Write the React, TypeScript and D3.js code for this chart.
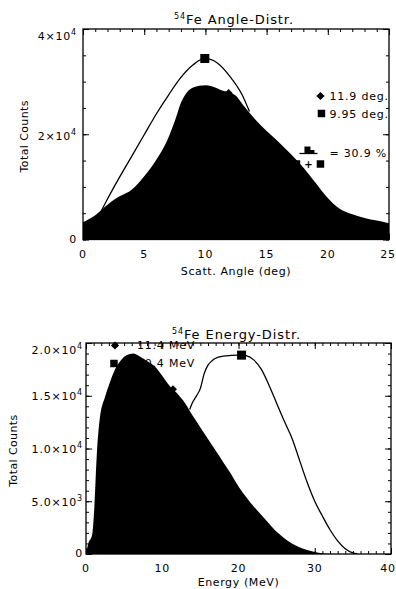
import { useEffect, useRef } from "react";
import * as d3 from "d3";

const width = 396;
const height = 589;

// top panel: 54Fe scattering angle distribution (deg -> counts)
const angleBins = [0, 0.5, 1, 1.5, 2, 2.5, 3, 4, 5, 6, 7, 7.5, 8, 8.5, 9, 10, 10.5, 11, 11.5, 12, 12.5, 13, 14, 15, 16, 17, 18, 19, 20, 21, 22, 23, 24, 25];
const angleCounts = [3300, 3900, 4600, 5600, 6600, 7500, 8200, 9500, 12000, 15200, 19500, 22500, 26000, 28000, 28900, 29300, 29100, 28700, 28200, 28000, 27300, 25800, 23000, 20600, 18500, 16200, 13700, 10800, 7900, 5800, 4800, 4100, 3600, 3100];
const angleFitBins = [1.4, 2, 3, 4, 5, 6, 7, 8, 9, 9.95, 11, 12, 13, 13.6];
const angleFitCounts = [5000, 7700, 11900, 15900, 19900, 23900, 27500, 30800, 33200, 34400, 33500, 31000, 27500, 24300];
const angleTicks = [0, 5, 10, 15, 20, 25];
const angleCountTicks = [0, 20000, 40000];
const angleCountLabels = [["0", ""], ["2×10", "4"], ["4×10", "4"]];
const angleMean = 11.9;
const anglePeak = 9.95;
const angleLegend = ["11.9 deg.", "9.95 deg."];
const angleRatio = "= 30.9 %";

// bottom panel: 54Fe energy distribution (MeV -> counts)
const energyBins = [0, 0.3, 0.8, 1.1, 1.4, 1.8, 2.5, 3, 3.8, 4.5, 5.3, 6.2, 7, 8, 9, 10, 11, 12, 13, 14, 15, 16, 17, 18, 19, 20, 21, 22, 23, 24, 25, 26, 27, 28, 29, 30, 31, 32, 33, 40];
const energyCounts = [0, 1000, 1800, 4500, 9200, 12800, 14900, 16000, 17500, 18300, 18850, 19000, 18750, 18300, 17800, 16900, 15900, 15200, 14300, 13100, 12000, 10900, 9800, 8700, 7600, 6400, 5400, 4500, 3700, 2900, 2100, 1500, 1000, 650, 380, 200, 80, 20, 0, 0];
const energyCalcBins = [13.6, 14, 14.5, 15, 15.5, 16, 16.5, 17, 18, 19, 20, 20.4, 21, 22, 23, 24, 25, 26, 27, 28, 29, 30, 31, 32, 33, 34, 35, 35.6];
const energyCalcCounts = [13700, 14400, 15000, 15700, 17100, 17900, 18300, 18550, 18750, 18820, 18850, 18850, 18800, 18400, 17500, 16000, 14300, 12600, 11000, 8900, 6800, 5000, 3600, 2300, 1250, 500, 100, 0];
const energyTicks = [0, 10, 20, 30, 40];
const energyCountTicks = [0, 5000, 10000, 15000, 20000];
const energyCountLabels = [["0", ""], ["5.0×10", "3"], ["1.0×10", "4"], ["1.5×10", "4"], ["2.0×10", "4"]];
const energyMean = 11.4;
const energyPeak = 20.4;
const energyLegend = ["11.4 MeV", "20.4 MeV"];

type Panel = {
  key: string;
  frame: { left: number; right: number; top: number; bottom: number };
  xDomain: [number, number];
  yDomain: [number, number];
  xMinor: number;
  yMinor: number;
  xTicks: number[];
  yTicks: number[];
  yLabels: string[][];
  title: string;
  xTitle: string;
  titleY: number;
  tickLabelY: number;
  xTitleY: number;
  yTitleX: number;
  yLabelRight: number;
  labelDy: number;
};

const topPanel: Panel = {
  key: "angle",
  frame: { left: 83, right: 389, top: 29, bottom: 239.5 },
  xDomain: [0, 25],
  yDomain: [0, 40000],
  xMinor: 1,
  yMinor: 5000,
  xTicks: angleTicks,
  yTicks: angleCountTicks,
  yLabels: angleCountLabels,
  title: "Fe Angle-Distr.",
  xTitle: "Scatt. Angle (deg)",
  titleY: 24,
  tickLabelY: 257.5,
  xTitleY: 274.5,
  yTitleX: 28,
  yLabelRight: 77,
  labelDy: 6,
};

const bottomPanel: Panel = {
  key: "energy",
  frame: { left: 86, right: 391, top: 343, bottom: 554 },
  xDomain: [0, 40],
  yDomain: [0, 20000],
  xMinor: 1,
  yMinor: 1000,
  xTicks: energyTicks,
  yTicks: energyCountTicks,
  yLabels: energyCountLabels,
  title: "Fe Energy-Distr.",
  xTitle: "Energy (MeV)",
  titleY: 339,
  tickLabelY: 572,
  xTitleY: 586,
  yTitleX: 17,
  yLabelRight: 83,
  labelDy: 4.5,
};

type Sel = d3.Selection<SVGSVGElement, unknown, null, undefined>;

function setupPanel(svg: Sel, p: Panel) {
  const { left, right, top, bottom } = p.frame;
  const x = d3.scaleLinear().domain(p.xDomain).range([left, right]);
  const y = d3.scaleLinear().domain(p.yDomain).range([bottom, top]);
  const g = svg.append("g").attr("class", p.key);

  g.append("clipPath")
    .attr("id", `clip-${p.key}`)
    .append("rect")
    .attr("x", left)
    .attr("y", top)
    .attr("width", right - left)
    .attr("height", bottom - top);

  const plot = g.append("g").attr("clip-path", `url(#clip-${p.key})`);
  return { x, y, g, plot };
}

function drawAxes(
  g: d3.Selection<SVGGElement, unknown, null, undefined>,
  x: d3.ScaleLinear<number, number>,
  y: d3.ScaleLinear<number, number>,
  p: Panel,
) {
  const { left, right, top, bottom } = p.frame;
  const xMinor = d3.range(p.xDomain[0], p.xDomain[1] + 1e-9, p.xMinor);
  const yMinor = d3.range(p.yDomain[0], p.yDomain[1] + 1e-9, p.yMinor);

  // inward ticks on all four sides, minor then major
  const sides: [number, number[], number[]][] = [
    [3, xMinor, yMinor],
    [6, p.xTicks, p.yTicks],
  ];
  sides.forEach(([len, xv, yv]) => {
    const blank = () => "";
    g.append("g")
      .attr("transform", `translate(0,${bottom})`)
      .call(d3.axisBottom(x).tickValues(xv).tickSize(-len).tickFormat(blank));
    g.append("g")
      .attr("transform", `translate(0,${top})`)
      .call(d3.axisTop(x).tickValues(xv).tickSize(-len).tickFormat(blank));
    g.append("g")
      .attr("transform", `translate(${left},0)`)
      .call(d3.axisLeft(y).tickValues(yv).tickSize(-len).tickFormat(blank));
    g.append("g")
      .attr("transform", `translate(${right},0)`)
      .call(d3.axisRight(y).tickValues(yv).tickSize(-len).tickFormat(blank));
  });
  g.selectAll(".domain").remove();
  g.selectAll(".tick line").attr("stroke", "#000").attr("stroke-width", 1);

  // frame
  g.append("rect")
    .attr("x", left)
    .attr("y", top)
    .attr("width", right - left)
    .attr("height", bottom - top)
    .attr("fill", "none")
    .attr("stroke", "#000")
    .attr("stroke-width", 1.3);

  // x tick labels (last one kept inside the page)
  g.selectAll(".x-label")
    .data(p.xTicks)
    .join("text")
    .attr("class", "x-label")
    .attr("x", (d) => Math.min(x(d), width - 8))
    .attr("y", p.tickLabelY)
    .attr("text-anchor", "middle")
    .style("font-size", "11px")
    .style("letter-spacing", "0.8px")
    .text((d) => d);

  // y tick labels with superscript exponent
  const yl = g
    .selectAll(".y-label")
    .data(p.yTicks.map((v, i) => ({ v, main: p.yLabels[i][0], sup: p.yLabels[i][1] })))
    .join("text")
    .attr("class", "y-label")
    .attr("x", p.yLabelRight)
    .attr("y", (d) => (d.v === 0 ? y(0) + 3 : Math.max(y(d.v) + p.labelDy, top + 11)))
    .attr("text-anchor", "end")
    .style("font-size", "11px")
    .style("letter-spacing", "0.8px");
  yl.append("tspan").text((d) => d.main);
  yl.filter((d) => d.sup !== "")
    .append("tspan")
    .attr("dy", -5)
    .style("font-size", "8px")
    .text((d) => d.sup);

  // axis titles
  g.append("text")
    .attr("x", (left + right) / 2)
    .attr("y", p.xTitleY)
    .attr("text-anchor", "middle")
    .style("font-size", "11px")
    .style("letter-spacing", "0.6px")
    .text(p.xTitle);

  g.append("text")
    .attr("transform", `translate(${p.yTitleX},${(top + bottom) / 2 + 2}) rotate(-90)`)
    .attr("text-anchor", "middle")
    .style("font-size", "11px")
    .style("letter-spacing", "0.4px")
    .text("Total Counts");

  // title with 54 superscript
  const title = g
    .append("text")
    .attr("x", (left + right) / 2 - 2)
    .attr("y", p.titleY)
    .attr("text-anchor", "middle")
    .style("letter-spacing", "0.9px");
  title.append("tspan").attr("dy", -5).style("font-size", "8px").text("54");
  title.append("tspan").attr("dy", 5).style("font-size", "13px").text(p.title);
}

export default function App() {
  const svgRef = useRef<SVGSVGElement | null>(null);

  useEffect(() => {
    if (!svgRef.current) return;
    const svg = d3.select(svgRef.current);
    svg.selectAll("*").remove();

    const square = d3.symbol().type(d3.symbolSquare);
    const legendText = (
      g: d3.Selection<SVGGElement, unknown, null, undefined>,
      tx: number,
      ty: number,
      s: string,
    ) =>
      g
        .append("text")
        .attr("x", tx)
        .attr("y", ty)
        .style("font-size", "11px")
        .style("letter-spacing", "0.8px")
        .text(s);

    // ---------- angle distribution ----------
    const a = setupPanel(svg, topPanel);
    const angleData = angleBins.map((v, i) => [v, angleCounts[i]] as [number, number]);
    const angleFit = angleFitBins.map((v, i) => [v, angleFitCounts[i]] as [number, number]);

    a.plot
      .append("path")
      .datum(angleData)
      .attr(
        "d",
        d3
          .area<[number, number]>()
          .x((d) => a.x(d[0]))
          .y0(a.y(0))
          .y1((d) => a.y(d[1]))
          .curve(d3.curveMonotoneX),
      )
      .attr("fill", "#000");

    a.plot
      .append("path")
      .datum(angleFit)
      .attr(
        "d",
        d3
          .line<[number, number]>()
          .x((d) => a.x(d[0]))
          .y((d) => a.y(d[1]))
          .curve(d3.curveMonotoneX),
      )
      .attr("fill", "none")
      .attr("stroke", "#000")
      .attr("stroke-width", 1.3);

    const anglePeakCount = angleFitCounts[angleFitBins.indexOf(anglePeak)];
    a.plot
      .append("path")
      .attr("d", square.size(81)())
      .attr("transform", `translate(${a.x(anglePeak)},${a.y(anglePeakCount)})`);
    a.plot
      .append("path")
      .attr("d", square.size(30)())
      .attr(
        "transform",
        `translate(${a.x(angleMean)},${a.y(d3.interpolateNumber(28200, 28000)(0.8)) + 1}) rotate(45)`,
      );

    drawAxes(a.g, a.x, a.y, topPanel);

    // legend
    const lx = a.x(19.4);
    a.g.append("path")
      .attr("d", square.size(34)())
      .attr("transform", `translate(${lx},96) rotate(45)`);
    legendText(a.g, lx + 9, 99.5, angleLegend[0]);
    a.g.append("path")
      .attr("d", square.size(56)())
      .attr("transform", `translate(${lx + 1},113.5)`);
    legendText(a.g, lx + 9, 118, angleLegend[1]);

    // area fraction symbol: hump over (square + square)
    const fx = lx - 12;
    a.g.append("line")
      .attr("x1", fx - 9)
      .attr("x2", fx + 9)
      .attr("y1", 153.5)
      .attr("y2", 153.5)
      .attr("stroke", "#000")
      .attr("stroke-width", 1.3);
    a.g.append("path")
      .attr("d", `M${fx - 4},153.5 V146.5 H${fx + 2} V150 H${fx + 6} V153.5 Z`)
      .attr("fill", "#000");
    a.g.append("path").attr("d", square.size(56)()).attr("transform", `translate(${fx - 12},164)`);
    a.g.append("path").attr("d", square.size(56)()).attr("transform", `translate(${fx + 12},164)`);
    a.g.append("text")
      .attr("x", fx)
      .attr("y", 168)
      .attr("text-anchor", "middle")
      .style("font-size", "10px")
      .style("font-weight", "bold")
      .text("+");
    legendText(a.g, fx + 21, 157, angleRatio);

    // ---------- energy distribution ----------
    const e = setupPanel(svg, bottomPanel);
    const energyData = energyBins.map((v, i) => [v, energyCounts[i]] as [number, number]);
    const energyCalc = energyCalcBins.map((v, i) => [v, energyCalcCounts[i]] as [number, number]);

    e.plot
      .append("path")
      .datum(energyData)
      .attr(
        "d",
        d3
          .area<[number, number]>()
          .x((d) => e.x(d[0]))
          .y0(e.y(0))
          .y1((d) => e.y(d[1]))
          .curve(d3.curveMonotoneX),
      )
      .attr("fill", "#000");

    e.plot
      .append("path")
      .datum(energyCalc)
      .attr(
        "d",
        d3
          .line<[number, number]>()
          .x((d) => e.x(d[0]))
          .y((d) => e.y(d[1]))
          .curve(d3.curveMonotoneX),
      )
      .attr("fill", "none")
      .attr("stroke", "#000")
      .attr("stroke-width", 1.3);

    const energyPeakCount = energyCalcCounts[energyCalcBins.indexOf(energyPeak)];
    e.plot
      .append("path")
      .attr("d", square.size(81)())
      .attr("transform", `translate(${e.x(energyPeak)},${e.y(energyPeakCount)})`);
    const meanIdx = energyBins.indexOf(11);
    const meanCount = d3.interpolateNumber(energyCounts[meanIdx], energyCounts[meanIdx + 1])(0.4);
    e.plot
      .append("path")
      .attr("d", square.size(32)())
      .attr("transform", `translate(${e.x(energyMean)},${e.y(meanCount)}) rotate(45)`);

    drawAxes(e.g, e.x, e.y, bottomPanel);

    // legend, partly hidden behind the frame and the filled area
    const ex = e.x(3.8);
    e.g.append("path")
      .attr("d", square.size(34)())
      .attr("transform", `translate(${ex},345.5) rotate(45)`);
    legendText(e.g, ex + 22, 348.5, energyLegend[0]);
    e.g.append("path")
      .attr("d", square.size(56)())
      .attr("transform", `translate(${ex - 1},363.5)`);
    legendText(e.g, ex + 22, 367, energyLegend[1]);
  }, []);

  return (
    <svg
      ref={svgRef}
      width={width}
      height={height}
      viewBox={`0 0 ${width} ${height}`}
      fontFamily="'DejaVu Sans', sans-serif"
      style={{ position: "absolute", left: 0, top: 0, background: "#fff" }}
    />
  );
}
